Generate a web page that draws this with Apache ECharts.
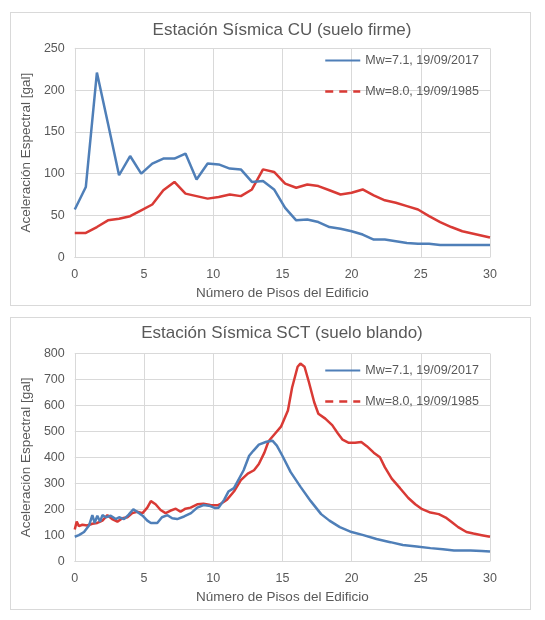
<!DOCTYPE html>
<html>
<head>
<meta charset="utf-8">
<script src="https://cdn.jsdelivr.net/npm/echarts@6/dist/echarts.min.js"></script>
<style>
  html, body { margin: 0; padding: 0; background: #ffffff; width: 545px; height: 620px; overflow: hidden; }
  .panel { position: absolute; border: 1px solid #d9d9d9; box-sizing: border-box; background: #fff; }
  #p1 { left: 10px; top: 12px; width: 521px; height: 294px; }
  #p2 { left: 10px; top: 317px; width: 521px; height: 293px; }
</style>
</head>
<body>
<div id="p1" class="panel"></div>
<div id="p2" class="panel"></div>
<script>
// ---------- Data ----------
const titleCU = 'Estación Sísmica CU (suelo firme)';
const titleSCT = 'Estación Sísmica SCT (suelo blando)';
const name2017 = 'Mw=7.1, 19/09/2017';
const name1985 = 'Mw=8.0, 19/09/1985';
const xAxisName = 'Número de Pisos del Edificio';
const yAxisName = 'Aceleración Espectral [gal]';

// CU (suelo firme): floors
const cuFloors = [0,0.8,1.6,2.4,3.2,4.0,4.8,5.6,6.4,7.2,8.0,8.8,9.6,10.4,11.2,12.0,12.8,13.6,14.4,15.2,16.0,16.8,17.6,18.4,19.2,20.0,20.8,21.6,22.4,23.2,24.0,24.8,25.6,26.4,27.2,28.0,28.8,29.6,30];
const cu2017 = [57,84,221,160,98,121,100,112,118,118,124,93,112,111,106,105,90,91,81,59,44,45,42,36,34,31,27,21,21,19,17,16,16,14.5,14.5,14.5,14.5,14.5,14.5];
const cu1985 = [29,29,36,44,46,49,56,63,80,90,76,73,70,72,75,73,81,105,102,88,83,87,85,80,75,77,81,74,68,65,61,57,49,42,36,31,28,25,23.5];

// SCT (suelo blando)
const sct2017Floors = [0,0.3,0.67,1.03,1.27,1.44,1.63,1.83,2.0,2.24,2.6,2.96,3.2,3.56,3.9,4.23,4.5,4.9,5.24,5.5,5.96,6.3,6.7,7.04,7.4,7.9,8.4,8.85,9.3,9.8,10.1,10.4,10.8,11.1,11.5,12.2,12.6,12.9,13.3,13.85,14.28,14.6,15.0,15.6,16.3,17.05,17.8,18.4,19.15,20,20.85,21.8,22.8,23.7,24.7,25.7,26.6,27.4,28.6,29.4,30];
const sct2017 = [94,100,112,137,177,147,175,152,177,169,175,162,169,162,179,200,190,175,156,147,147,169,177,165,162,172,185,206,216,212,205,206,237,268,281,350,406,425,449,460,464,445,406,343,287,231,181,156,131,112,100,85,73,62,56,50,46,41,41,39,37];
const sct1985Floors = [0,0.14,0.3,0.55,0.9,1.27,1.63,2.0,2.36,2.7,3.08,3.44,3.8,4.16,4.5,4.9,5.24,5.5,5.84,6.2,6.56,6.9,7.3,7.64,8.0,8.37,8.85,9.3,9.8,10.3,10.5,11.0,11.5,12.0,12.5,12.95,13.3,13.7,14.0,14.4,14.9,15.4,15.7,16.1,16.3,16.6,16.9,17.3,17.6,18.1,18.6,19.0,19.35,19.8,20.25,20.7,21.1,21.6,22.05,22.4,22.9,23.5,24.1,24.6,25.1,25.7,26.3,26.8,27.25,27.7,28.3,28.8,29.4,30];
const sct1985 = [122,152,135,140,137,144,147,156,177,162,152,165,169,185,190,185,206,231,219,197,185,194,202,190,202,206,219,221,216,215,219,237,268,312,337,350,374,418,462,487,518,580,668,749,761,749,693,612,568,549,524,493,468,456,456,459,443,418,400,362,318,281,243,219,200,187,181,168,150,131,112,106,100,94];

const xTicks = { min: 0, max: 30, interval: 5 };
const cuY = { min: 0, max: 250, interval: 50 };
const sctY = { min: 0, max: 800, interval: 100 };

// ---------- Style ----------
const FONT = '"Liberation Sans", Arial, sans-serif';
const TXT = '#595959';
const BLUE = '#4f7fb8';
const RED = '#d93a35';
const GRIDC = '#d9d9d9';

function zip(xs, ys) { return xs.map((x, i) => [x, ys[i]]); }

function makeOption(title, titleTop, legendTop, gridTop, gridBottom, yRange, s17x, s17y, s85x, s85y) {
  return {
    animation: false,
    textStyle: { fontFamily: FONT },
    title: {
      text: title, left: 266, top: titleTop, textAlign: 'center',
      textStyle: { fontSize: 17, fontWeight: 'normal', color: TXT, fontFamily: FONT }
    },
    legend: {
      orient: 'vertical', left: 313, top: legendTop, padding: 0,
      itemWidth: 35, itemHeight: 14, itemGap: 18,
      itemStyle: { opacity: 0 },
      textStyle: { fontSize: 12.5, color: TXT, fontFamily: FONT },
      data: [
        { name: name2017 },
        { name: name1985, lineStyle: { type: [8, 6], width: 2.5 } }
      ]
    },
    grid: { left: 61, right: 40, top: gridTop, bottom: gridBottom, containLabel: false },
    xAxis: {
      type: 'value', min: xTicks.min, max: xTicks.max, interval: xTicks.interval,
      name: xAxisName, nameLocation: 'middle', nameGap: 27,
      nameTextStyle: { fontSize: 13.5, color: TXT, fontFamily: FONT },
      axisLine: { show: true, lineStyle: { color: GRIDC, width: 1 } },
      axisTick: { show: false },
      axisLabel: { fontSize: 12.5, color: TXT, margin: 11, fontFamily: FONT },
      splitLine: { show: true, lineStyle: { color: GRIDC, width: 1 } }
    },
    yAxis: {
      type: 'value', min: yRange.min, max: yRange.max, interval: yRange.interval,
      name: yAxisName, nameLocation: 'middle', nameGap: 36,
      nameTextStyle: { fontSize: 13.5, color: TXT, fontFamily: FONT },
      axisLine: { show: true, lineStyle: { color: GRIDC, width: 1 } },
      axisTick: { show: false },
      axisLabel: { fontSize: 12.5, color: TXT, margin: 10, fontFamily: FONT },
      splitLine: { show: true, lineStyle: { color: GRIDC, width: 1 } }
    },
    series: [
      { name: name2017, type: 'line', data: zip(s17x, s17y), symbol: 'none', smooth: false,
        lineStyle: { color: BLUE, width: 2.5 }, itemStyle: { color: BLUE }, z: 3 },
      { name: name1985, type: 'line', data: zip(s85x, s85y), symbol: 'none', smooth: false,
        lineStyle: { color: RED, width: 2.5 }, itemStyle: { color: RED }, z: 2 }
    ]
  };
}

const c1 = echarts.init(document.getElementById('p1'), null, { renderer: 'canvas' });
c1.setOption(makeOption(titleCU, 4, 41, 35.3, 43.3, cuY, cuFloors, cu2017, cuFloors, cu1985));
const c2 = echarts.init(document.getElementById('p2'), null, { renderer: 'canvas' });
c2.setOption(makeOption(titleSCT, 2, 46, 35.5, 42.5, sctY, sct2017Floors, sct2017, sct1985Floors, sct1985));
</script>
</body>
</html>
